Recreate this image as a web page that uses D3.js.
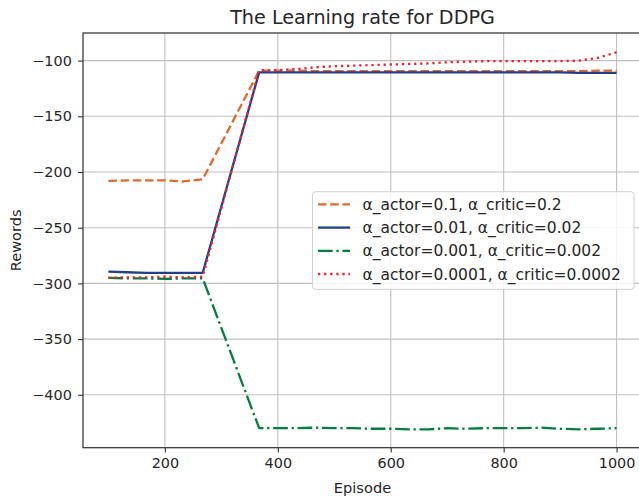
<!DOCTYPE html>
<html>
<head>
<meta charset="utf-8">
<script src="https://cdn.jsdelivr.net/npm/d3@7"></script>
<style>
  html, body { margin: 0; padding: 0; background: #fff; }
  svg { display: block; font-family: "DejaVu Sans", sans-serif; }
</style>
</head>
<body>
<svg id="chart" width="639" height="501"></svg>
<script>
const episodes = [100, 133, 167, 200, 233, 267, 367, 400, 433, 467, 500, 533, 567, 600, 633, 667, 700, 733, 767, 800, 833, 867, 900, 933, 967, 1000];
const seriesNames = ["α_actor=0.1, α_critic=0.2", "α_actor=0.01, α_critic=0.02", "α_actor=0.001, α_critic=0.002", "α_actor=0.0001, α_critic=0.0002"];
const rewards01 = [-208, -207.5, -207.5, -207.5, -208.5, -206.5, -109, -109, -109, -109.5, -109.5, -109.5, -109.5, -109.5, -109.5, -109.5, -109.5, -109.5, -109.5, -109.5, -109.5, -109.5, -109.5, -109.5, -109, -109];
const rewards001 = [-289.5, -290, -290.5, -290.5, -290.5, -290.5, -110.5, -110.5, -110.5, -110.5, -110.5, -110.5, -110.5, -110.5, -110.5, -110.5, -110.5, -110.5, -110.5, -110.5, -110.5, -110.5, -110.5, -111, -111, -111];
const rewards0001 = [-295, -295.5, -295.5, -296, -295.5, -295.5, -430, -430, -430, -429.5, -430, -430, -430.5, -430.5, -431, -431, -430, -430.5, -430, -430, -430, -429.5, -430.5, -431, -430.5, -430];
const rewards00001 = [-295, -294.5, -294.5, -294, -294.5, -294, -108.5, -108.5, -107.5, -106, -105, -104.5, -104, -103.5, -103, -102.5, -101.5, -101, -100.5, -100.5, -100.5, -100.5, -100.5, -100, -97.5, -92.5];
const xTicks = [200, 400, 600, 800, 1000];
const yTicks = [-100, -150, -200, -250, -300, -350, -400];
const colors = ["#E2692B", "#233F8C", "#00803F", "#F5222D"];
const dashes = ["8.5,3.7", null, "14.7,3.7,2.3,3.7", "2.3,3.8"];

const svg = d3.select("#chart");
const pLeft = 83, pRight = 642, pTop = 33, pBottom = 447.7;

const x = d3.scaleLinear().domain([55, 1045]).range([pLeft, pRight]);
const y = d3.scaleLinear().domain([-447.5, -75.2]).range([pBottom, pTop]);

svg.append("defs").append("clipPath").attr("id", "clip")
  .append("rect").attr("x", pLeft).attr("y", pTop).attr("width", pRight - pLeft).attr("height", pBottom - pTop);

// grid
const grid = svg.append("g");
grid.selectAll("line.vx").data(xTicks).join("line").attr("class", "vx")
  .attr("x1", d => x(d)).attr("x2", d => x(d)).attr("y1", pTop).attr("y2", pBottom)
  .attr("stroke", "#c0c0c0").attr("stroke-width", 1.1);
grid.selectAll("line.hy").data(yTicks).join("line").attr("class", "hy")
  .attr("y1", d => y(d)).attr("y2", d => y(d)).attr("x1", pLeft).attr("x2", pRight)
  .attr("stroke", "#c0c0c0").attr("stroke-width", 1.1);

// axes
const xAxis = d3.axisBottom(x).tickValues(xTicks).tickSize(4.9).tickPadding(5).tickFormat(d3.format("d"));
const yAxis = d3.axisLeft(y).tickValues(yTicks).tickSize(4.9).tickPadding(6.3).tickFormat(d => "\u2212" + Math.abs(d));

const gx = svg.append("g").attr("transform", `translate(0,${pBottom})`).call(xAxis);
const gy = svg.append("g").attr("transform", `translate(${pLeft},0)`).call(yAxis);
[gx, gy].forEach(g => {
  g.select(".domain").remove();
  g.selectAll(".tick line").attr("stroke", "#333").attr("stroke-width", 1.1);
  g.selectAll(".tick text").attr("fill", "#262626").style("font-size", "14.4px").style("font-family", "DejaVu Sans");
});

// lines
const allSeries = [rewards01, rewards001, rewards0001, rewards00001];
const line = d3.line().x((d, i) => x(episodes[i])).y(d => y(d));
const linesG = svg.append("g").attr("clip-path", "url(#clip)");
allSeries.forEach((s, k) => {
  linesG.append("path").datum(s)
    .attr("d", line)
    .attr("fill", "none")
    .attr("stroke", colors[k])
    .attr("stroke-width", 2.3)
    .attr("stroke-dasharray", dashes[k])
    .attr("stroke-linejoin", "round");
});

// spines
svg.append("rect").attr("x", pLeft).attr("y", pTop).attr("width", pRight - pLeft).attr("height", pBottom - pTop)
  .attr("fill", "none").attr("stroke", "#333").attr("stroke-width", 1.25);

// title and labels
svg.append("text").attr("x", (pLeft + pRight) / 2).attr("y", 24).attr("text-anchor", "middle")
  .style("font-size", "19.2px").attr("fill", "#262626").text("The Learning rate for DDPG");
svg.append("text").attr("x", (pLeft + pRight) / 2).attr("y", 493).attr("text-anchor", "middle")
  .style("font-size", "14.6px").attr("fill", "#262626").text("Episode");
svg.append("text").attr("transform", `translate(21,${(pTop + pBottom) / 2}) rotate(-90)`).attr("text-anchor", "middle")
  .style("font-size", "14.6px").attr("fill", "#262626").text("Rewords");

// legend
const lg = svg.append("g");
lg.append("rect").attr("x", 312.5).attr("y", 191.7).attr("width", 321.5).attr("height", 97.6)
  .attr("rx", 3).attr("fill", "rgba(255,255,255,0.8)").attr("stroke", "#d0d0d0").attr("stroke-width", 1);
const rowY = [204.3, 227.6, 250.8, 274];
seriesNames.forEach((name, k) => {
  lg.append("line").attr("x1", 318).attr("x2", 350).attr("y1", rowY[k]).attr("y2", rowY[k])
    .attr("stroke", colors[k]).attr("stroke-width", 2.3).attr("stroke-dasharray", dashes[k]);
  lg.append("text").attr("x", 362.5).attr("y", rowY[k]).attr("dy", "0.36em")
    .style("font-size", "15.5px").attr("fill", "#262626").text(name);
});
</script>
</body>
</html>
